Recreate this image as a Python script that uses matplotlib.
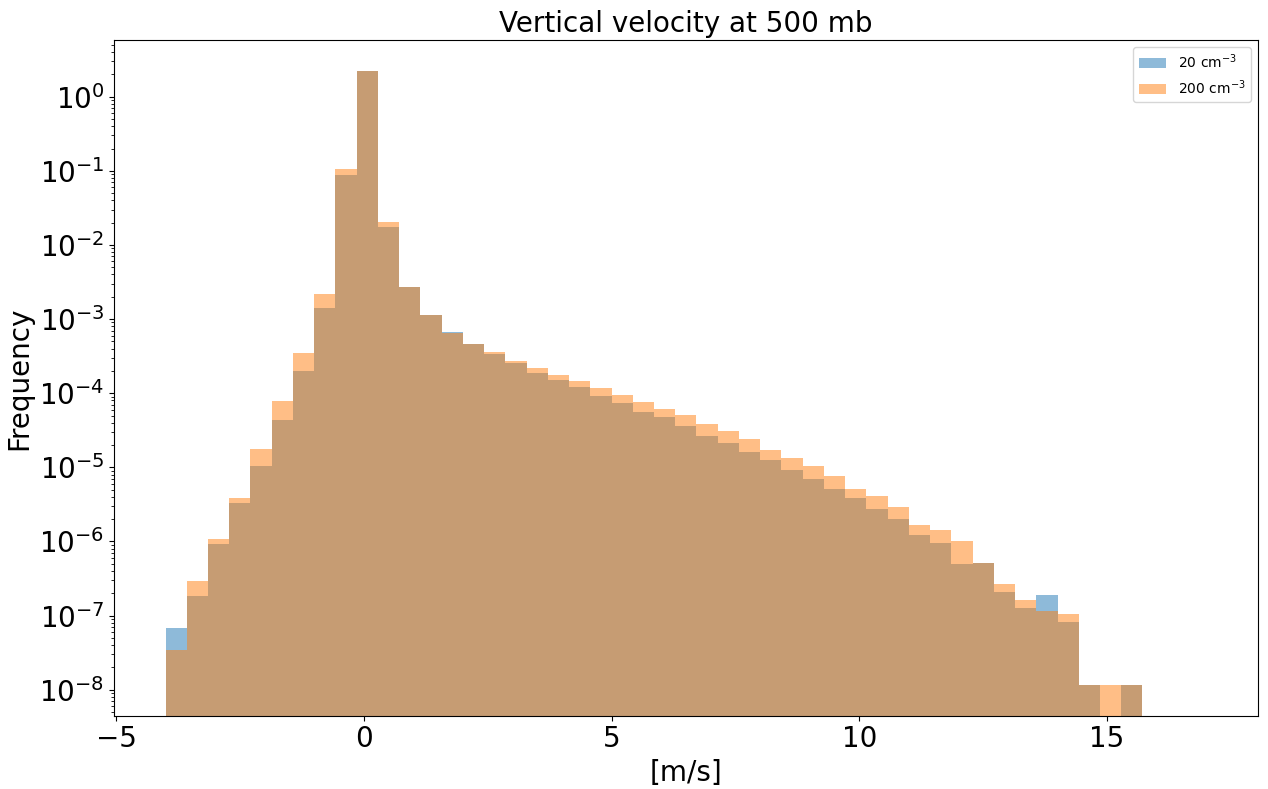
import numpy as np
import matplotlib
matplotlib.use("Agg")
import matplotlib.pyplot as plt

#%% Data (normalised histograms)

bin_start = -4.0
bin_width = 3.0 / 7.0

freq_20 = [6.87e-8, 1.86e-7, 9.33e-7, 3.27e-6, 1.05e-5, 4.31e-5, 2.01e-4, 1.40e-3,
           8.7e-2, 2.22, 1.75e-2, 2.73e-3, 1.15e-3, 6.68e-4, 4.65e-4, 3.38e-4,
           2.53e-4, 1.89e-4, 1.51e-4, 1.20e-4, 9.26e-5, 7.31e-5, 5.64e-5, 4.73e-5,
           3.65e-5, 2.67e-5, 2.15e-5, 1.61e-5, 1.27e-5, 9.2e-6, 6.9e-6, 5.15e-6,
           3.9e-6, 2.72e-6, 2.01e-6, 1.22e-6, 9.5e-7, 5.0e-7, 5.2e-7, 2.06e-7,
           1.28e-7, 1.88e-7, 8.2e-8, 1.17e-8, 0.0, 1.17e-8]

freq_200 = [3.47e-8, 2.93e-7, 1.08e-6, 3.89e-6, 1.77e-5, 7.85e-5, 3.49e-4, 2.18e-3,
            0.106, 2.22, 2.04e-2, 2.73e-3, 1.12e-3, 6.56e-4, 4.57e-4, 3.56e-4,
            2.75e-4, 2.19e-4, 1.76e-4, 1.46e-4, 1.19e-4, 9.55e-5, 7.55e-5, 6.18e-5,
            5.04e-5, 3.88e-5, 3.06e-5, 2.39e-5, 1.70e-5, 1.34e-5, 1.05e-5, 7.6e-6,
            5.1e-6, 4.06e-6, 2.89e-6, 1.65e-6, 1.44e-6, 1.02e-6, 5.18e-7, 2.65e-7,
            1.62e-7, 1.16e-7, 1.04e-7, 1.17e-8, 1.17e-8, 1.17e-8]

labels = [r'20 cm$^{-3}$', r'200 cm$^{-3}$']

#%% Plot

edges = bin_start + bin_width * np.arange(len(freq_20) + 1)
centers = 0.5 * (edges[:-1] + edges[1:])

fig = plt.figure(figsize=(12.68, 7.89), dpi=100)
ax = fig.add_subplot(111)
fig.subplots_adjust(left=0.0899, right=0.9919, top=0.9493, bottom=0.0929)

ax.hist(centers, bins=edges, weights=freq_20, alpha=0.5, log=True, label=labels[0])
ax.hist(centers, bins=edges, weights=freq_200, alpha=0.5, log=True, label=labels[1])

ax.set_xlim(-5.04, 18.04)
ax.set_ylim(10**-8.35, 10**0.765)

ax.set_title("Vertical velocity at 500 mb", fontsize=20)
ax.set_xlabel("[m/s]", fontsize=20)
ax.set_ylabel("Frequency", fontsize=20)
ax.tick_params(labelsize=20)
ax.legend(loc="upper right", fontsize=10)

fig.savefig("out.png", dpi=100)
